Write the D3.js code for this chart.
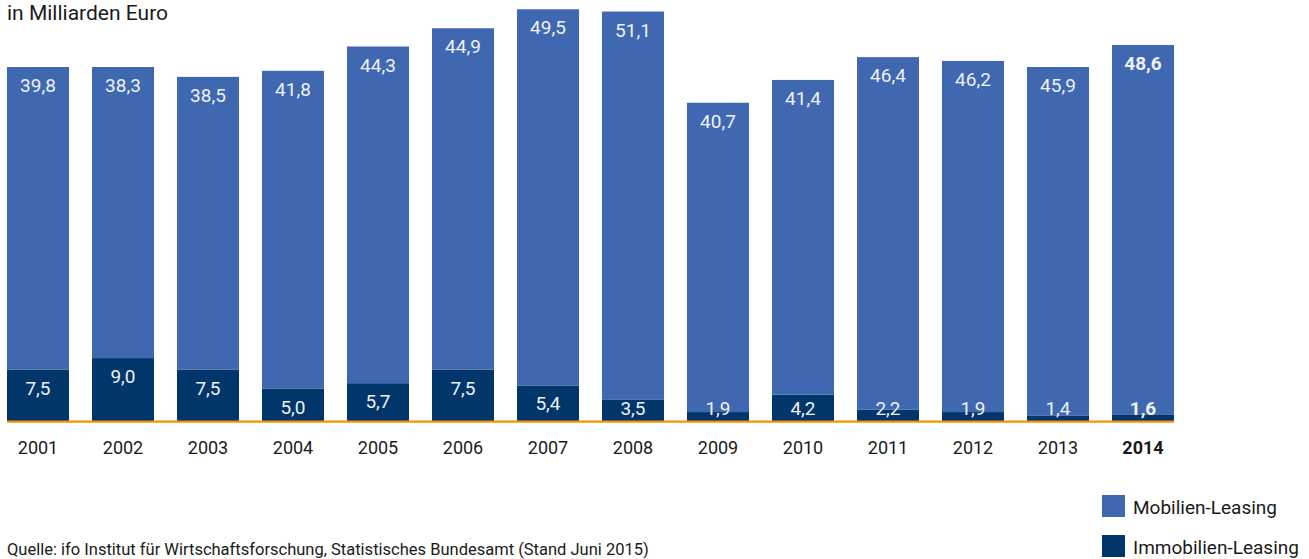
<!DOCTYPE html>
<html><head><meta charset="utf-8">
<script src="https://cdn.jsdelivr.net/npm/d3@7"></script>
<style>html,body{margin:0;padding:0;background:#fff;}svg{display:block;font-family:Roboto,"Open Sans",sans-serif;}</style>
</head><body>
<script>
const years = ["2001","2002","2003","2004","2005","2006","2007","2008","2009","2010","2011","2012","2013","2014"];
const mobilien = [39.8,38.3,38.5,41.8,44.3,44.9,49.5,51.1,40.7,41.4,46.4,46.2,45.9,48.6];
const immobilien = [7.5,9.0,7.5,5.0,5.7,7.5,5.4,3.5,1.9,4.2,2.2,1.9,1.4,1.6];
const seriesNames = ["Mobilien-Leasing","Immobilien-Leasing"];
const colors = ["#4068b0","#00366a"];

const W=1309,H=559;
const svg=d3.select("body").append("svg").attr("width",W).attr("height",H);
const x=d3.scaleBand().domain(years).range([7,1174]).paddingInner(23/85).paddingOuter(0);
const y=d3.scaleLinear().domain([0,60]).range([426.5,426.5-60*7.6]);
const baseY=421.5;
const fmt=v=>d3.format(".1f")(v).replace(".",",");

svg.append("defs").append("clipPath").attr("id","clip").append("rect")
  .attr("x",0).attr("y",0).attr("width",W).attr("height",baseY);

const data=years.map((yr,i)=>({yr,m:mobilien[i],im:immobilien[i],bold:i===years.length-1}));
const g=svg.append("g").attr("clip-path","url(#clip)");
g.selectAll("rect.im").data(data).join("rect").attr("class","im")
  .attr("x",d=>x(d.yr)).attr("width",x.bandwidth())
  .attr("y",d=>y(d.im)).attr("height",d=>y(0)-y(d.im)).attr("fill",colors[1]);
g.selectAll("rect.m").data(data).join("rect").attr("class","m")
  .attr("x",d=>x(d.yr)).attr("width",x.bandwidth())
  .attr("y",d=>y(d.im+d.m)).attr("height",d=>y(d.im)-y(d.im+d.m)).attr("fill",colors[0]);

svg.append("rect").attr("x",7).attr("y",baseY-1).attr("width",1167).attr("height",2.2).attr("fill","#f39200");

// value labels
svg.selectAll("text.ml").data(data).join("text").attr("class","ml")
  .attr("x",d=>x(d.yr)+x.bandwidth()/2).attr("y",d=>y(d.im+d.m)+25)
  .attr("text-anchor","middle").attr("font-size",19).attr("fill","#eef1f7")
  .attr("font-weight",d=>d.bold?"bold":"normal").text(d=>fmt(d.m));
svg.selectAll("text.il").data(data).join("text").attr("class","il")
  .attr("x",d=>x(d.yr)+x.bandwidth()/2).attr("y",d=>Math.min(y(d.im)+25,414.5))
  .attr("text-anchor","middle").attr("font-size",19).attr("fill","#eef1f7")
  .attr("font-weight",d=>d.bold?"bold":"normal").text(d=>fmt(d.im));

// x axis labels
svg.selectAll("text.yr").data(data).join("text").attr("class","yr")
  .attr("x",d=>x(d.yr)+x.bandwidth()/2).attr("y",454)
  .attr("text-anchor","middle").attr("font-size",18).attr("fill","#1a1a1a")
  .attr("font-weight",d=>d.bold?"bold":"normal").text(d=>d.yr);

svg.append("text").attr("x",7).attr("y",20).attr("font-size",21).attr("fill","#1a1a1a").text("in Milliarden Euro");
svg.append("text").attr("x",7).attr("y",555).attr("font-size",16.5).attr("fill","#1a1a1a")
  .text("Quelle: ifo Institut für Wirtschaftsforschung, Statistisches Bundesamt (Stand Juni 2015)");

const leg=svg.append("g");
seriesNames.forEach((n,i)=>{
  leg.append("rect").attr("x",1102).attr("y",495+i*40).attr("width",23).attr("height",22).attr("fill",colors[i]);
  leg.append("text").attr("x",1133).attr("y",514+i*40).attr("font-size",19).attr("fill","#1a1a1a").text(n);
});
</script>
</body></html>
